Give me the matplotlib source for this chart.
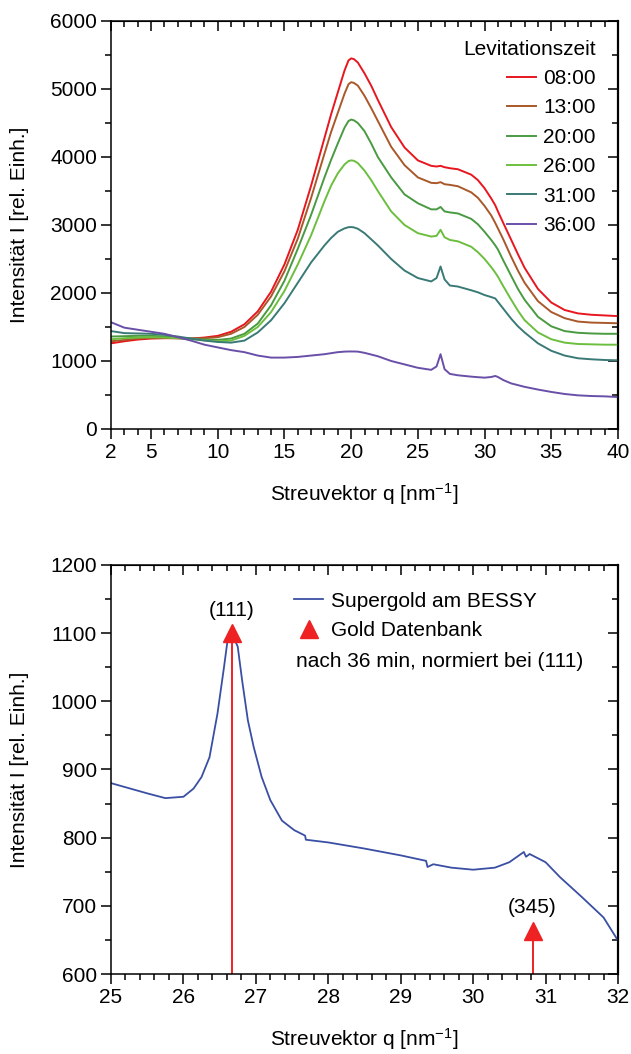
import numpy as np
import matplotlib
matplotlib.use("Agg")
import matplotlib.pyplot as plt
from matplotlib.ticker import MultipleLocator, FixedLocator

plt.rcParams['font.family'] = ['Liberation Sans', 'DejaVu Sans']
plt.rcParams['mathtext.fontset'] = 'custom'
plt.rcParams['mathtext.rm'] = 'Liberation Sans'
plt.rcParams['mathtext.it'] = 'Liberation Sans'

# --- top panel: scattering curves for different levitation times ---
q = [2, 3, 4, 5, 6, 7, 8, 9, 10, 11, 12, 13, 14, 15, 16, 17, 18, 18.5, 19, 19.5, 19.8, 20,
     20.2, 20.5, 21, 21.5, 22, 23, 24, 25, 26, 26.4, 26.7, 27, 27.4, 28, 29, 29.5, 30, 30.5,
     30.8, 31, 31.4, 32, 32.5, 33, 34, 35, 36, 37, 38, 39, 40]

I_0800 = [1260, 1290, 1315, 1330, 1335, 1335, 1330, 1345, 1370, 1430, 1540, 1730, 2020, 2420,
          2930, 3580, 4280, 4630, 4950, 5270, 5420, 5450, 5440, 5390, 5230, 5050, 4840, 4440,
          4140, 3950, 3870, 3860, 3870, 3850, 3835, 3820, 3740, 3660, 3540, 3390, 3290, 3200,
          3030, 2780, 2570, 2370, 2060, 1860, 1750, 1700, 1680, 1670, 1660]
I_1300 = [1290, 1310, 1330, 1340, 1340, 1335, 1330, 1335, 1350, 1400, 1500, 1680, 1950, 2320,
          2800, 3400, 4050, 4370, 4650, 4930, 5070, 5100, 5090, 5050, 4900, 4720, 4530, 4150,
          3880, 3700, 3620, 3615, 3630, 3600, 3590, 3570, 3480, 3400, 3280, 3140, 3030, 2950,
          2790, 2530, 2330, 2150, 1880, 1720, 1630, 1580, 1565, 1560, 1555]
I_2000 = [1360, 1365, 1370, 1370, 1360, 1345, 1330, 1315, 1310, 1330, 1400, 1550, 1820, 2180,
          2650, 3150, 3700, 3960, 4200, 4430, 4530, 4550, 4540, 4500, 4380, 4200, 4000, 3700,
          3450, 3320, 3230, 3230, 3265, 3200, 3185, 3170, 3090, 3010, 2900, 2780, 2700, 2640,
          2480, 2250, 2060, 1900, 1650, 1510, 1440, 1415, 1405, 1400, 1400]
I_2600 = [1320, 1335, 1345, 1350, 1345, 1335, 1320, 1305, 1290, 1300, 1370, 1500, 1720, 2030,
          2420, 2850, 3350, 3580, 3760, 3890, 3940, 3950, 3945, 3910, 3800, 3660, 3500, 3200,
          3000, 2880, 2830, 2840, 2930, 2820, 2780, 2760, 2680, 2600, 2500, 2380, 2300, 2240,
          2100, 1900, 1740, 1600, 1420, 1320, 1270, 1250, 1245, 1240, 1240]
I_3100 = [1440, 1410, 1405, 1400, 1385, 1360, 1330, 1300, 1280, 1270, 1300, 1420, 1600, 1850,
          2150, 2450, 2700, 2810, 2900, 2950, 2968, 2970, 2965, 2945, 2880, 2790, 2700, 2500,
          2330, 2220, 2170, 2220, 2390, 2200, 2110, 2095, 2040, 2010, 1970, 1940, 1920, 1870,
          1770, 1620, 1510, 1420, 1260, 1150, 1080, 1040, 1025, 1015, 1010]
I_3600 = [1570, 1490, 1460, 1430, 1400, 1350, 1300, 1240, 1200, 1160, 1130, 1080, 1050, 1050,
          1060, 1080, 1100, 1115, 1130, 1138, 1140, 1140, 1140, 1138, 1120, 1095, 1070, 1000,
          950, 900, 870, 920, 1100, 880, 810, 790, 770, 762, 755, 765, 780, 765,
          720, 670, 645, 620, 580, 545, 515, 495, 485, 480, 470]

labels = ['08:00', '13:00', '20:00', '26:00', '31:00', '36:00']
colors = ['#e8161e', '#a9582a', '#4a9a42', '#6cbf3e', '#3a7a76', '#6a4fa8']
series = [I_0800, I_1300, I_2000, I_2600, I_3100, I_3600]

# --- bottom panel: 36 min curve zoomed, with gold reference peaks ---
q_sg = [25, 25.3, 25.5, 25.75, 26, 26.14, 26.25, 26.36, 26.47, 26.56, 26.61, 26.67, 26.75,
        26.81, 26.89, 26.97, 27.08, 27.2, 27.36, 27.53, 27.68, 27.69, 28, 28.5, 29, 29.35,
        29.37, 29.45, 29.7, 30, 30.3, 30.5, 30.7, 30.73, 30.78, 31, 31.2, 31.5, 31.8, 32]
I_sg = [880, 871, 865, 858, 860, 872, 889, 918, 982, 1050, 1090, 1100, 1080,
        1031, 972, 933, 889, 855, 825, 811, 803, 797, 793, 784, 774, 766,
        757, 761, 756, 753, 756, 764, 779, 772, 776, 764, 742, 713, 683, 649]
q_gold = [26.67, 30.82]
I_gold = [1100, 663]
hkl = ['(111)', '(345)']

fs = 15
fig = plt.figure(figsize=(6.31, 10.54), dpi=100)
ax1 = fig.add_axes([111/631, 1 - 429/1054, 507/631, 408/1054])
ax2 = fig.add_axes([111/631, 1 - 974/1054, 507/631, 409/1054])


def style_axes(ax, xmaj, xmin, ymaj, ymin):
    ax.xaxis.set_major_locator(xmaj)
    ax.xaxis.set_minor_locator(xmin)
    ax.yaxis.set_major_locator(ymaj)
    ax.yaxis.set_minor_locator(ymin)
    ax.tick_params(which='major', direction='out', length=7, width=1.1, labelsize=fs, pad=3)
    ax.tick_params(which='minor', direction='out', length=4, width=1.1)
    for s in ax.spines.values():
        s.set_linewidth(1.1)
    # inward ticks on top and right
    top = ax.secondary_xaxis('top')
    top.xaxis.set_major_locator(xmaj)
    top.xaxis.set_minor_locator(xmin)
    top.tick_params(which='major', direction='in', length=7, width=1.1, labeltop=False)
    top.tick_params(which='minor', direction='in', length=4, width=1.1)
    right = ax.secondary_yaxis('right')
    right.yaxis.set_major_locator(ymaj)
    right.yaxis.set_minor_locator(ymin)
    right.tick_params(which='major', direction='in', length=7, width=1.1, labelright=False)
    right.tick_params(which='minor', direction='in', length=4, width=1.1)
    right.spines['right'].set_linewidth(1.6)


for y, lab, c in zip(series, labels, colors):
    ax1.plot(q, y, color=c, lw=1.4, label=lab)
ax1.set_xlim(2, 40)
ax1.set_ylim(0, 6000)
style_axes(ax1, FixedLocator([2, 5, 10, 15, 20, 25, 30, 35, 40]), MultipleLocator(1),
           MultipleLocator(1000), MultipleLocator(500))
ax1.set_xlabel('Streuvektor q [nm$^{-1}$]', fontsize=fs, labelpad=14)
ax1.set_ylabel('Intensität I [rel. Einh.]', fontsize=fs, labelpad=15)
ax1.legend(title='Levitationszeit', loc='upper right', frameon=False, fontsize=fs,
           title_fontsize=fs, alignment='right', handlelength=1.4, handletextpad=0.35,
           labelspacing=0.5, borderaxespad=0.3, bbox_to_anchor=(0.985, 0.99))

ax2.plot(q_sg, I_sg, color='#3a4fa3', lw=1.3, label='Supergold am BESSY')
ax2.vlines(q_gold, 600, I_gold, color='#ee2222', lw=1.4)
ax2.plot(q_gold, I_gold, ls='none', marker='^', ms=13, color='#ee2222', label='Gold Datenbank')
for x, y, t in zip(q_gold, I_gold, hkl):
    ax2.text(x, y + 20, t, ha='center', va='bottom', fontsize=fs)
ax2.set_xlim(25, 32)
ax2.set_ylim(600, 1200)
style_axes(ax2, MultipleLocator(1), MultipleLocator(0.2), MultipleLocator(100), MultipleLocator(50))
ax2.set_xlabel('Streuvektor q [nm$^{-1}$]', fontsize=fs, labelpad=14)
ax2.set_ylabel('Intensität I [rel. Einh.]', fontsize=fs, labelpad=15)
ax2.legend(loc='upper left', bbox_to_anchor=(0.345, 0.955), frameon=False, fontsize=fs,
           handlelength=1.4, handletextpad=0.35, labelspacing=0.5, borderaxespad=0.0)
ax2.text(0.364, 0.765, 'nach 36 min, normiert bei (111)', transform=ax2.transAxes,
         fontsize=fs, va='center', ha='left')

fig.savefig('out.png', dpi=100)
